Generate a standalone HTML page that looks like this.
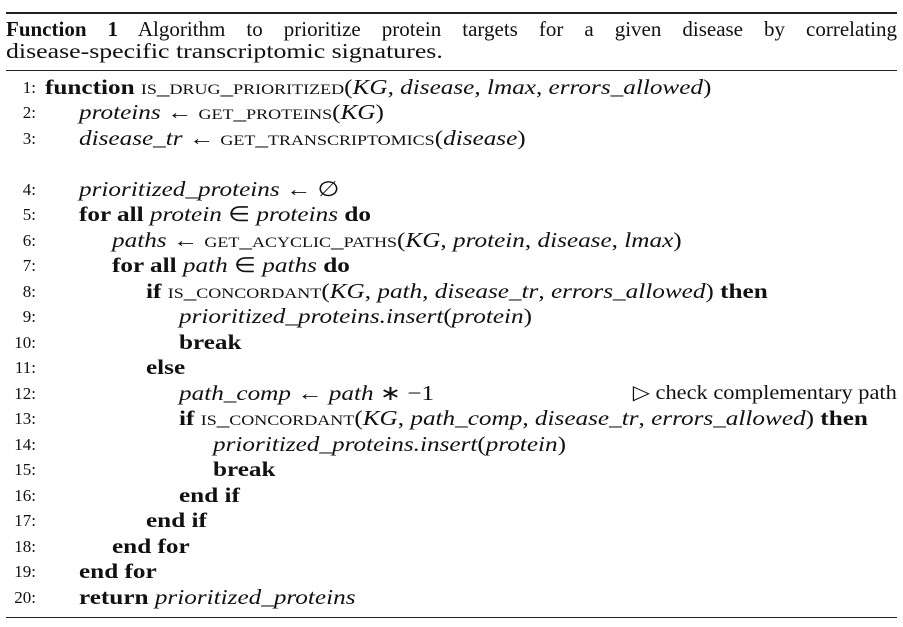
<!DOCTYPE html>
<html><head><meta charset="utf-8"><style>
html,body{margin:0;padding:0;background:#fff;}
body{width:903px;height:627px;position:relative;overflow:hidden;font-family:"Liberation Serif",serif;font-size:20px;color:#111;}
.rule{position:absolute;left:6px;width:891px;background:#222;}
.cap{position:absolute;left:6px;line-height:22px;font-size:21px;white-space:nowrap;}
.r{position:absolute;left:0;width:897px;height:25px;line-height:25px;white-space:nowrap;}
.n{position:absolute;left:0;width:36px;text-align:right;font-size:17px;}
.t{position:absolute;font-size:21px;transform:scaleX(1.2);transform-origin:0 50%;}
b{font-weight:bold;}
i{font-style:italic;}
.sc{font-variant:small-caps;font-size:21px;}
.cm{position:absolute;right:0;font-size:20px;transform:scaleX(1.12);transform-origin:100% 50%;}
</style></head><body>
<div class="rule" style="top:12px;height:2px"></div>
<div class="cap" style="top:18px;width:891px;text-align:justify;text-align-last:justify;white-space:normal;"><b>Function 1</b> Algorithm to prioritize protein targets for a given disease by correlating</div>
<div class="cap" style="top:40px;transform:scaleX(1.23);transform-origin:0 50%;">disease-specific transcriptomic signatures.</div>
<div class="rule" style="top:70px;height:1px"></div>

<div class="r" style="top:75px"><span class="n">1:</span><span class="t" style="left:45px"><b>function</b> <span class="sc">is_drug_prioritized</span>(<i>KG</i>, <i>disease</i>, <i>lmax</i>, <i>errors_allowed</i>)</span></div>
<div class="r" style="top:100px"><span class="n">2:</span><span class="t" style="left:79px"><i>proteins</i> ← <span class="sc">get_proteins</span>(<i>KG</i>)</span></div>
<div class="r" style="top:126px"><span class="n">3:</span><span class="t" style="left:79px"><i>disease_tr</i> ← <span class="sc">get_transcriptomics</span>(<i>disease</i>)</span></div>
<div class="r" style="top:177px"><span class="n">4:</span><span class="t" style="left:79px"><i>prioritized_proteins</i> ← ∅</span></div>
<div class="r" style="top:202px"><span class="n">5:</span><span class="t" style="left:79px"><b>for all</b> <i>protein</i> ∈ <i>proteins</i> <b>do</b></span></div>
<div class="r" style="top:228px"><span class="n">6:</span><span class="t" style="left:112px"><i>paths</i> ← <span class="sc">get_acyclic_paths</span>(<i>KG</i>, <i>protein</i>, <i>disease</i>, <i>lmax</i>)</span></div>
<div class="r" style="top:253px"><span class="n">7:</span><span class="t" style="left:112px"><b>for all</b> <i>path</i> ∈ <i>paths</i> <b>do</b></span></div>
<div class="r" style="top:279px"><span class="n">8:</span><span class="t" style="left:146px"><b>if</b> <span class="sc">is_concordant</span>(<i>KG</i>, <i>path</i>, <i>disease_tr</i>, <i>errors_allowed</i>) <b>then</b></span></div>
<div class="r" style="top:304px"><span class="n">9:</span><span class="t" style="left:179px"><i>prioritized_proteins.insert</i>(<i>protein</i>)</span></div>
<div class="r" style="top:330px"><span class="n">10:</span><span class="t" style="left:179px"><b>break</b></span></div>
<div class="r" style="top:355px"><span class="n">11:</span><span class="t" style="left:146px"><b>else</b></span></div>
<div class="r" style="top:381px"><span class="n">12:</span><span class="t" style="left:179px"><i>path_comp</i> ← <i>path</i> ∗ −1</span><span class="cm">▷ check complementary path</span></div>
<div class="r" style="top:406px"><span class="n">13:</span><span class="t" style="left:179px"><b>if</b> <span class="sc">is_concordant</span>(<i>KG</i>, <i>path_comp</i>, <i>disease_tr</i>, <i>errors_allowed</i>) <b>then</b></span></div>
<div class="r" style="top:432px"><span class="n">14:</span><span class="t" style="left:213px"><i>prioritized_proteins.insert</i>(<i>protein</i>)</span></div>
<div class="r" style="top:457px"><span class="n">15:</span><span class="t" style="left:213px"><b>break</b></span></div>
<div class="r" style="top:483px"><span class="n">16:</span><span class="t" style="left:179px"><b>end if</b></span></div>
<div class="r" style="top:508px"><span class="n">17:</span><span class="t" style="left:146px"><b>end if</b></span></div>
<div class="r" style="top:534px"><span class="n">18:</span><span class="t" style="left:112px"><b>end for</b></span></div>
<div class="r" style="top:559px"><span class="n">19:</span><span class="t" style="left:79px"><b>end for</b></span></div>
<div class="r" style="top:585px"><span class="n">20:</span><span class="t" style="left:79px"><b>return</b> <i>prioritized_proteins</i></span></div>
<div class="rule" style="top:617px;height:1px"></div>
</body></html>
